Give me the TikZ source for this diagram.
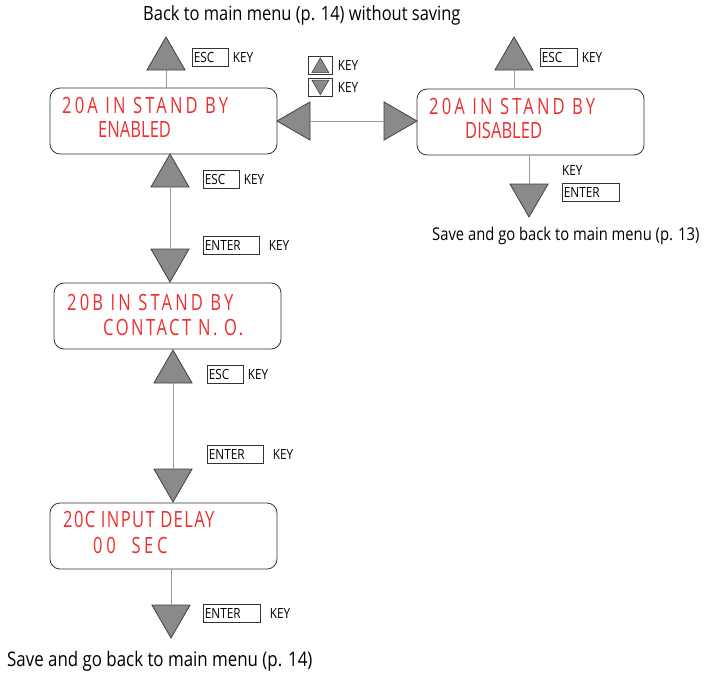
\documentclass[tikz,border=0pt]{standalone}
\usepackage{fontspec}
\setmainfont{Open Sans}[FakeStretch=0.84]
\newfontfamily\lcdfont{Open Sans}[FakeStretch=0.74]
\usetikzlibrary{shapes.geometric,positioning}
\definecolor{lcdred}{HTML}{EE2E2E}
\definecolor{trigray}{HTML}{8A8A8A}
\begin{document}
\begin{tikzpicture}[x=1pt,y=-1pt,
  screen/.style={draw=black!80,line width=.8pt,rounded corners=10pt,minimum width=227pt,minimum height=66pt},
  lcd/.style={font=\lcdfont\fontsize{22.4}{24}\selectfont\addfontfeature{LetterSpace=#1},text=lcdred,anchor=base west,inner sep=0pt},
  tri/.style={regular polygon,regular polygon sides=3,regular polygon rotate=#1,minimum size=44pt,inner sep=0pt,outer sep=0pt,draw=black!75,fill=trigray,line width=.8pt},
  link/.style={draw=black!40,line width=1pt},
  keybox/.style={draw=black!80,line width=.7pt,inner ysep=0pt,inner xsep=1.5pt,minimum height=18pt,text width=#1,align=left,anchor=north west,font=\fontsize{14}{14}\selectfont},
  keytxt/.style={inner sep=0pt,font=\fontsize{14}{14}\selectfont},
  arrowkey/.style={draw=black!80,line width=.7pt,minimum width=24pt,minimum height=18pt,inner sep=0pt,anchor=north west},
  note/.style={inner sep=0pt,anchor=base west,font=\fontsize{#1}{#1}\selectfont}]
\useasboundingbox (0,0) rectangle (704,673);
\node[screen] (A1) at (163.5,121) {};
\node[screen] (A2) at (530.5,122) {};
\node[screen] (B) at (167.5,316) {};
\node[screen] (C) at (163.5,536) {};
\node[lcd=14] (A1a) at (62,113) {20A IN STAND BY};
\node[lcd=0] (A1b) at (98,137) {ENABLED};
\node[lcd=14] (A2a) at (429,114) {20A IN STAND BY};
\node[lcd=0] (A2b) at (465,138) {DISABLED};
\node[lcd=14] (Ba) at (67,310) {20B IN STAND BY};
\node[lcd=11] (Bb) at (103,335) {CONTACT N. O.};
\node[lcd=6] (Ca) at (63,527) {20C INPUT DELAY};
\node[lcd=16] (Cb) at (93,553) {00\ \ SEC};
\node[tri=0,anchor=corner 1] (tA1) at (166,37) {};
\node[tri=90,anchor=corner 1] (tL) at (277,121) {};
\node[tri=-90,anchor=corner 1] (tR) at (417,121) {};
\node[tri=0,anchor=corner 1] (tA2) at (514,37) {};
\node[tri=180,anchor=corner 1] (tA2d) at (529,217) {};
\node[tri=0,anchor=corner 1] (tB1) at (170,154) {};
\node[tri=180,anchor=corner 1] (tB2) at (170,282) {};
\node[tri=0,anchor=corner 1] (tC1) at (173,350) {};
\node[tri=180,anchor=corner 1] (tC2) at (173,502) {};
\node[tri=180,anchor=corner 1] (tE) at (171,638) {};
\draw[link] (tA1.side 2) -- (tA1.side 2 |- A1.north);
\draw[link] (tL.side 2) -- (tR.side 2);
\draw[link] (tA2.side 2) -- (tA2.side 2 |- A2.north);
\draw[link] (tA2d.side 2 |- A2.south) -- (tA2d.side 2);
\draw[link] (tB1.side 2) -- (tB2.side 2);
\draw[link] (tC1.side 2) -- (tC2.side 2);
\draw[link] (tE.side 2 |- C.south) -- (tE.side 2);
\node[keybox=33pt] (escA1) at (192,48) {ESC};
\node[keytxt,right=4pt of escA1] (kA1) {KEY};
\node[keybox=34pt] (escA2) at (540,48) {ESC};
\node[keytxt,right=4pt of escA2] (kA2) {KEY};
\node[keytxt,anchor=base west] (kA2d) at (562,175) {KEY};
\node[keybox=54pt] (entA2) at (562,183) {ENTER};
\node[keybox=33pt] (escB) at (203,170) {ESC};
\node[keytxt,right=4pt of escB] (kB1) {KEY};
\node[keybox=53pt] (entB) at (203,236) {ENTER};
\node[keytxt,right=9pt of entB] (kB2) {KEY};
\node[keybox=33pt] (escC) at (207,365) {ESC};
\node[keytxt,right=4pt of escC] (kC1) {KEY};
\node[keybox=53pt] (entC) at (207,445) {ENTER};
\node[keytxt,right=9pt of entC] (kC2) {KEY};
\node[keybox=54pt] (entE) at (203,604) {ENTER};
\node[keytxt,right=9pt of entE] (kE) {KEY};
\node[arrowkey] (upkey) at (308,56) {};
\node[arrowkey] (downkey) at (308,78) {};
\node[tri=0,minimum size=19.6pt,line width=.6pt] (upsym) at ([yshift=-2.4pt]upkey.center) {};
\node[tri=180,minimum size=19.6pt,line width=.6pt] (downsym) at ([yshift=2.4pt]downkey.center) {};
\node[keytxt,right=5pt of upkey] (kup) {KEY};
\node[keytxt,right=5pt of downkey] (kdown) {KEY};
\node[note=19.6] (back) at (143,20) {Back to main menu (p. 14) without saving};
\node[note=17.6] (save13) at (432,240) {Save and go back to main menu (p. 13)};
\node[note=20.1] (save14) at (7,666) {Save and go back to main menu (p. 14)};
\end{tikzpicture}
\end{document}
